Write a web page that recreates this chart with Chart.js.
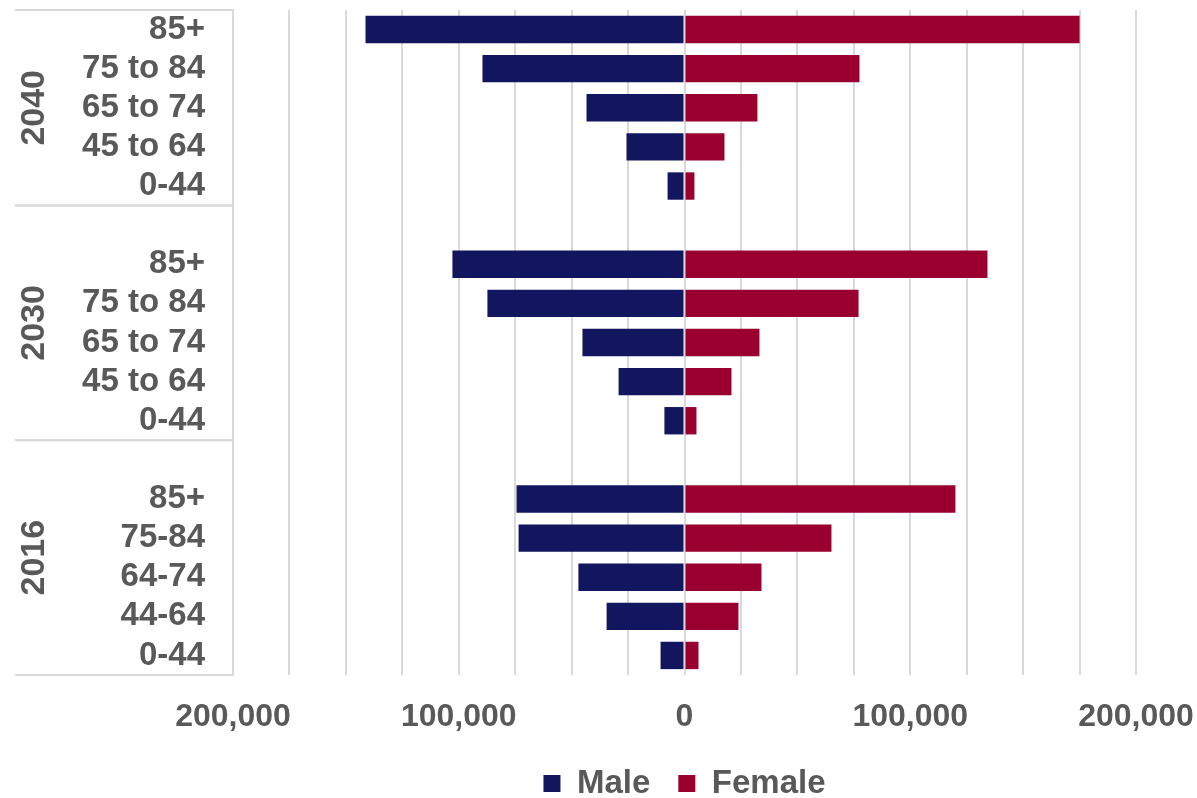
<!DOCTYPE html>
<html>
<head>
<meta charset="utf-8">
<script src="https://cdn.jsdelivr.net/npm/chart.js@4"></script>
<style>
    html, body { margin: 0; padding: 0; background: #ffffff; }
    #wrap { width: 1197px; height: 798px; }
</style>
</head>
<body>
<div id="wrap"><canvas id="grafico"></canvas></div>
<script>

const anos = ["2040", "2030", "2016"];

const idades2040 = ["85+", "75 to 84", "65 to 74", "45 to 64", "0-44"];
const idades2030 = ["85+", "75 to 84", "65 to 74", "45 to 64", "0-44"];
const idades2016 = ["85+", "75-84", "64-74", "44-64", "0-44"];

const homens2040 = [141300, 89500, 43400, 25700, 7500];
const mulheres2040 = [175000, 77500, 32300, 17700, 4400];

const homens2030 = [102800, 87300, 45200, 29200, 8900];
const mulheres2030 = [134200, 77100, 33200, 20800, 5300];

const homens2016 = [74400, 73500, 47000, 34500, 10600];
const mulheres2016 = [120000, 65100, 34100, 23900, 6200];

const corTexto = "#595959";
const corGrade = "#D9D9D9";
const fonte = "'Liberation Sans', Arial, sans-serif";

// rows: 2040 group, blank + 2030 group, blank + 2016 group
const rotulos = [...idades2040, "", ...idades2030, "", ...idades2016];
const dadosHomens = [...homens2040, null, ...homens2030, null, ...homens2016].map(v => v == null ? null : -v);
const dadosMulheres = [...mulheres2040, null, ...mulheres2030, null, ...mulheres2016];

// first / last row index of each year group
const grupos = [
    { ano: anos[0], inicio: 0, fim: 4 },
    { ano: anos[1], inicio: 5, fim: 10 },
    { ano: anos[2], inicio: 11, fim: 16 }
];

const gruposPlugin = {
    id: "grupos",
    afterLayout(chart){
        // legend centred under the plot area, like the original
        chart.legend.left = chart.chartArea.left;
        chart.legend.right = chart.chartArea.right;
    },
    afterDraw(chart){
        const y = chart.scales.y;
        const area = chart.chartArea;
        const ctx = chart.ctx;
        const meia = (y.getPixelForValue(1) - y.getPixelForValue(0)) / 2;
        const xIni = area.left - 218;

        ctx.save();
        ctx.strokeStyle = corGrade;
        ctx.lineWidth = 2;

        grupos.forEach(g => {
            const topo = y.getPixelForValue(g.inicio) - meia;
            const base = y.getPixelForValue(g.fim) + meia;

            ctx.beginPath();
            ctx.moveTo(xIni, topo);
            ctx.lineTo(area.left, topo);
            ctx.moveTo(xIni, base);
            ctx.lineTo(area.left, base);
            ctx.stroke();

            ctx.save();
            ctx.translate(area.left - 198, (topo + base) / 2);
            ctx.rotate(-Math.PI / 2);
            ctx.fillStyle = corTexto;
            ctx.font = "bold 34px " + fonte;
            ctx.textAlign = "center";
            ctx.textBaseline = "middle";
            ctx.fillText(g.ano, 0, 0);
            ctx.restore();
        });

        ctx.restore();
    }
};

new Chart(document.getElementById("grafico"), {

    type: "bar",

    data: {
        labels: rotulos,
        datasets: [
            {
                label: "Male",
                data: dadosHomens,
                backgroundColor: "#11165E",
                barPercentage: 0.7,
                categoryPercentage: 1
            },
            {
                label: "Female",
                data: dadosMulheres,
                backgroundColor: "#990030",
                barPercentage: 0.7,
                categoryPercentage: 1
            }
        ]
    },

    options: {
        indexAxis: "y",
        responsive: true,
        maintainAspectRatio: false,
        animation: false,
        layout: {
            padding: { top: 10, right: 61, left: 0, bottom: -12 }
        },
        plugins: {
            legend: {
                position: "bottom",
                labels: {
                    color: corTexto,
                    font: { family: fonte, size: 33, weight: "bold" },
                    boxWidth: 17,
                    boxHeight: 17,
                    padding: 28
                }
            },
            tooltip: { enabled: false }
        },
        scales: {
            x: {
                stacked: true,
                min: -200000,
                max: 200000,
                grid: {
                    color: corGrade,
                    lineWidth: 2,
                    drawTicks: false
                },
                border: { display: false },
                afterFit(scale){
                    scale.paddingLeft = 0;
                    scale.paddingRight = 0;
                    scale.height = 64;
                },
                ticks: {
                    stepSize: 25000,
                    autoSkip: false,
                    maxRotation: 0,
                    padding: 23,
                    color: corTexto,
                    font: { family: fonte, size: 32, weight: "bold" },
                    callback: v => v % 100000 === 0 ? Math.abs(v).toLocaleString("en-US") : ""
                }
            },
            y: {
                stacked: true,
                grid: { display: false, drawTicks: false },
                border: { display: true, color: corGrade, width: 2 },
                afterFit(scale){
                    scale.width = 233;
                    scale.paddingTop = 0;
                    scale.paddingBottom = 0;
                },
                ticks: {
                    autoSkip: false,
                    padding: 28,
                    color: corTexto,
                    font: { family: fonte, size: 33, weight: "bold" }
                }
            }
        }
    },

    plugins: [gruposPlugin]

});
</script>
</body>
</html>
